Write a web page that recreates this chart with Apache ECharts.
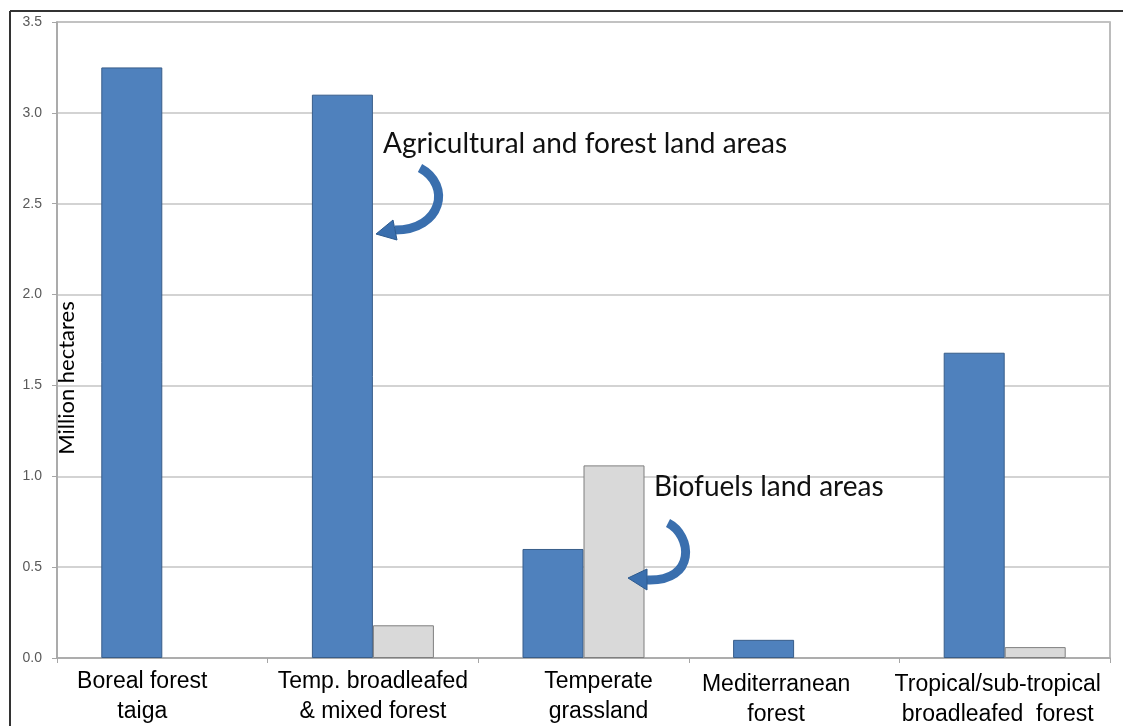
<!DOCTYPE html>
<html>
<head>
<meta charset="utf-8">
<script src="https://cdn.jsdelivr.net/npm/echarts@6/dist/echarts.min.js"></script>
<style>
html,body{margin:0;padding:0;background:#fff;}
#chart{width:1123px;height:726px;}
</style>
</head>
<body>
<div id="chart"></div>
<script>
const categories = ['Boreal forest\ntaiga', 'Temp. broadleafed\n& mixed forest', 'Temperate\ngrassland', 'Mediterranean\nforest', 'Tropical/sub-tropical\nbroadleafed  forest'];
const agriForest = [3.25, 3.10, 0.60, 0.10, 1.68];
const biofuels = [0, 0.18, 1.06, 0, 0.06];
const yTicks = [0, 0.5, 1.0, 1.5, 2.0, 2.5, 3.0, 3.5];
const labelShift = [[0,40,0,0],[0,0,0,0],[0,0,0,30],[3,36,0,0],[3,14,0,0]];

const chart = echarts.init(document.getElementById('chart'), null, {renderer: 'canvas'});
const option = {
  animation: false,
  backgroundColor: '#fff',
  grid: {left: 57, right: 13, top: 22, bottom: 68, show: true, borderColor: '#a6a6a6', borderWidth: 1.5,
         containLabel: false, outerBoundsMode: 'none'},
  xAxis: {
    type: 'category',
    data: categories.map((c, i) => ({value: c, textStyle: {padding: labelShift[i]}})),
    axisLine: {lineStyle: {color: '#a6a6a6', width: 1.5}},
    axisTick: {show: true, length: 5, lineStyle: {color: '#a6a6a6'}},
    axisLabel: {color: '#000', fontSize: 23, fontFamily: 'Liberation Sans, Arial', lineHeight: 30, margin: 9, interval: 0}
  },
  yAxis: {
    type: 'value',
    min: 0, max: 3.5, interval: 0.5,
    name: 'Million hectares',
    nameLocation: 'middle',
    nameRotate: 90,
    nameGap: -21,
    nameMoveOverlap: false,
    nameTextStyle: {fontFamily: 'Lato, Open Sans', fontSize: 22, color: '#000', padding: [0, 76, 0, 0]},
    axisLine: {show: true, lineStyle: {color: '#a6a6a6', width: 1.5}},
    axisTick: {show: true, length: 5, lineStyle: {color: '#a6a6a6'}},
    splitLine: {lineStyle: {color: '#c4c4c4', width: 1.5}},
    axisLabel: {color: '#595959', fontSize: 14, fontFamily: 'Liberation Sans, Arial', margin: 15,
      formatter: v => yTicks.includes(v) ? v.toFixed(1) : ''}
  },
  series: [
    {type: 'bar', name: 'Agricultural and forest land areas', data: agriForest.map(v => v === 0 ? null : v),
     barWidth: 61, barGap: '0%',
     itemStyle: {color: '#4f81bd', borderColor: '#385d8a', borderWidth: 1}},
    {type: 'bar', name: 'Biofuels land areas', data: biofuels.map(v => v === 0 ? null : v),
     barWidth: 61, barGap: '0%',
     itemStyle: {color: '#d9d9d9', borderColor: '#7f7f7f', borderWidth: 1}}
  ],
  graphic: [
    {type: 'line', z: 100, shape: {x1: 10, y1: 11, x2: 1123, y2: 11}, style: {stroke: '#333', lineWidth: 2}, silent: true},
    {type: 'line', z: 100, shape: {x1: 10, y1: 11, x2: 10, y2: 726}, style: {stroke: '#333', lineWidth: 2}, silent: true},
    {type: 'text', z: 100, left: 383, top: 130, style: {text: 'Agricultural and forest land areas', fontFamily: 'Lato, Open Sans', fontSize: 28, fill: '#111'}},
    {type: 'text', z: 100, left: 654, top: 473, style: {text: 'Biofuels land areas', fontFamily: 'Lato, Open Sans', fontSize: 28, fill: '#111'}},
    {type: 'bezierCurve', z: 100, shape: {x1: 420, y1: 168, cpx1: 452, cpy1: 185, cpx2: 442, cpy2: 230, x2: 395, y2: 230},
     style: {stroke: '#3a6fae', lineWidth: 9, fill: null}, silent: true},
    {type: 'polygon', z: 100, shape: {points: [[376, 234], [393, 220], [397, 240]]}, style: {fill: '#3a6fae', stroke: '#2c5a8f', lineWidth: 1}, silent: true},
    {type: 'bezierCurve', z: 100, shape: {x1: 668, y1: 523, cpx1: 692, cpy1: 535, cpx2: 697, cpy2: 582, x2: 647, y2: 580},
     style: {stroke: '#3a6fae', lineWidth: 9, fill: null}, silent: true},
    {type: 'polygon', z: 100, shape: {points: [[628, 578], [647, 569], [647, 590]]}, style: {fill: '#3a6fae', stroke: '#2c5a8f', lineWidth: 1}, silent: true}
  ]
};
chart.setOption(option);
</script>
</body>
</html>
